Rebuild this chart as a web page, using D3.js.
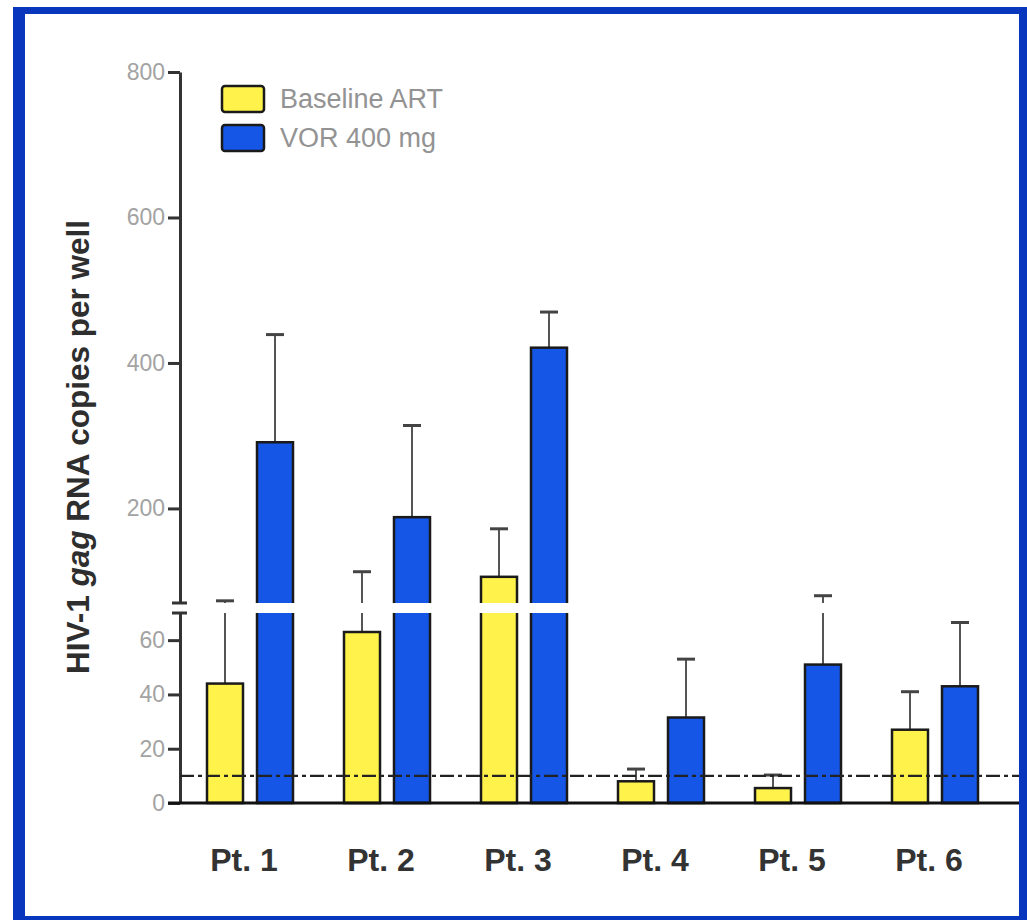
<!DOCTYPE html>
<html>
<head>
<meta charset="utf-8">
<script src="https://cdn.jsdelivr.net/npm/d3@7"></script>
<style>
  body { margin: 0; background: #fff; }
  text { font-family: "Liberation Sans", Arial, sans-serif; }
  .tick text { fill: #a3a3a3; font-size: 23px; }
  .tick line, .domain { stroke: #333; stroke-width: 3; }
</style>
</head>
<body>
<script>
// values (copies per well)
const patients = ["Pt. 1", "Pt. 2", "Pt. 3", "Pt. 4", "Pt. 5", "Pt. 6"];
const baselineArt = [44, 63, 106, 8, 5.5, 27];
const baselineErr = [73, 113, 172, 12.5, 10.3, 41];
const vor400 = [291, 188, 421, 31.5, 51, 43];
const vorErr = [439, 314, 470, 53, 80, 66.5];
const lowerTicks = [0, 20, 40, 60];
const upperTicks = [200, 400, 600, 800];
const detectionLimit = 10;
const breakAt = 70;

const W = 1027, H = 920;

const svg = d3.select("body").append("svg")
  .attr("width", W)
  .attr("height", H);

// blue slide frame
svg.append("rect").attr("x", 13).attr("y", 7).attr("width", W - 13).attr("height", H - 7).attr("fill", "#0836bd");
svg.append("rect").attr("x", 25).attr("y", 14).attr("width", 994).attr("height", 902).attr("fill", "#fff");

// broken y axis: two linear pieces
const yLow = d3.scaleLinear().domain([0, breakAt]).range([803, 613]);
const yHigh = d3.scaleLinear().domain([breakAt, 800]).range([603, 72]);
const y = v => v <= breakAt ? yLow(v) : yHigh(v);

const x0 = d3.scaleBand().domain(patients).range([181.5, 1003.5]);
const series = [
  {key: "base", name: "Baseline ART", values: baselineArt, err: baselineErr, color: "#fff24a"},
  {key: "vor", name: "VOR 400 mg", values: vor400, err: vorErr, color: "#1556e6"}
];
const x1 = d3.scaleBand().domain(series.map(s => s.key))
  .range([0, x0.bandwidth()]).paddingInner(0.28).paddingOuter(0.51);

const axisX = 180;
svg.append("g")
  .attr("transform", "translate(" + axisX + ",0)")
  .call(d3.axisLeft(yLow).tickValues(lowerTicks).tickSize(12).tickSizeOuter(0).tickPadding(3));
svg.append("g")
  .attr("transform", "translate(" + axisX + ",0)")
  .call(d3.axisLeft(yHigh).tickValues(upperTicks).tickSize(12).tickSizeOuter(0).tickPadding(3));

const plot = svg.append("g");

series.forEach(s => {
  const g = plot.append("g");
  const rows = patients.map((p, i) => ({p: p, v: s.values[i], e: s.err[i]}));
  const cx = d => x0(d.p) + x1(s.key) + x1.bandwidth() / 2;

  // error bars (upper only)
  g.selectAll(".whisker").data(rows).enter().append("line")
    .attr("x1", cx).attr("x2", cx)
    .attr("y1", d => y(d.v)).attr("y2", d => y(d.e))
    .attr("stroke", "#555").attr("stroke-width", 2);
  g.selectAll(".cap").data(rows).enter().append("line")
    .attr("x1", d => cx(d) - 9).attr("x2", d => cx(d) + 9)
    .attr("y1", d => y(d.e)).attr("y2", d => y(d.e))
    .attr("stroke", "#444").attr("stroke-width", 3);

  g.selectAll("rect").data(rows).enter().append("rect")
    .attr("x", d => x0(d.p) + x1(s.key))
    .attr("y", d => y(d.v))
    .attr("width", x1.bandwidth())
    .attr("height", d => y(0) - y(d.v))
    .attr("fill", s.color)
    .attr("stroke", "#1a1a1a")
    .attr("stroke-width", 2.5);
});

// white gap for the axis break
svg.append("rect")
  .attr("x", axisX - 3).attr("y", yHigh(breakAt))
  .attr("width", 1019 - axisX).attr("height", yLow(breakAt) - yHigh(breakAt))
  .attr("fill", "#fff");
[yHigh(breakAt), yLow(breakAt)].forEach(v => {
  svg.append("line")
    .attr("x1", axisX - 8).attr("x2", axisX + 7)
    .attr("y1", v).attr("y2", v)
    .attr("stroke", "#333").attr("stroke-width", 3);
});

// baseline and detection-limit line
svg.append("line")
  .attr("x1", 168).attr("x2", 1019)
  .attr("y1", y(0)).attr("y2", y(0))
  .attr("stroke", "#111").attr("stroke-width", 3);
svg.append("line")
  .attr("x1", axisX).attr("x2", 1019)
  .attr("y1", y(detectionLimit)).attr("y2", y(detectionLimit))
  .attr("stroke", "#222").attr("stroke-width", 2.2)
  .attr("stroke-dasharray", "14,4,4,4");

// x category labels
svg.append("g").selectAll("text").data(patients).enter().append("text")
  .attr("x", d => x0(d) + x0.bandwidth() / 2 - 6)
  .attr("y", 871)
  .attr("text-anchor", "middle")
  .attr("font-size", 32)
  .attr("font-weight", "bold")
  .attr("fill", "#333")
  .text(d => d);

// y axis title
const yt = svg.append("text")
  .attr("transform", "translate(89,447) rotate(-90)")
  .attr("text-anchor", "middle")
  .attr("font-size", 31.5)
  .attr("font-weight", "bold")
  .attr("fill", "#2e2e2e");
yt.append("tspan").text("HIV-1 ");
yt.append("tspan").attr("font-style", "italic").text("gag");
yt.append("tspan").text(" RNA copies per well");

// legend
const legend = svg.append("g");
series.forEach((s, i) => {
  const ly = 86 + i * 39;
  legend.append("rect")
    .attr("x", 222).attr("y", ly).attr("width", 42).attr("height", 26)
    .attr("rx", 3)
    .attr("fill", s.color).attr("stroke", "#1a1a1a").attr("stroke-width", 2.5);
  legend.append("text")
    .attr("x", 280).attr("y", ly + 13).attr("dy", "0.35em")
    .attr("font-size", 27)
    .attr("fill", "#939393")
    .text(s.name);
});
</script>
</body>
</html>
